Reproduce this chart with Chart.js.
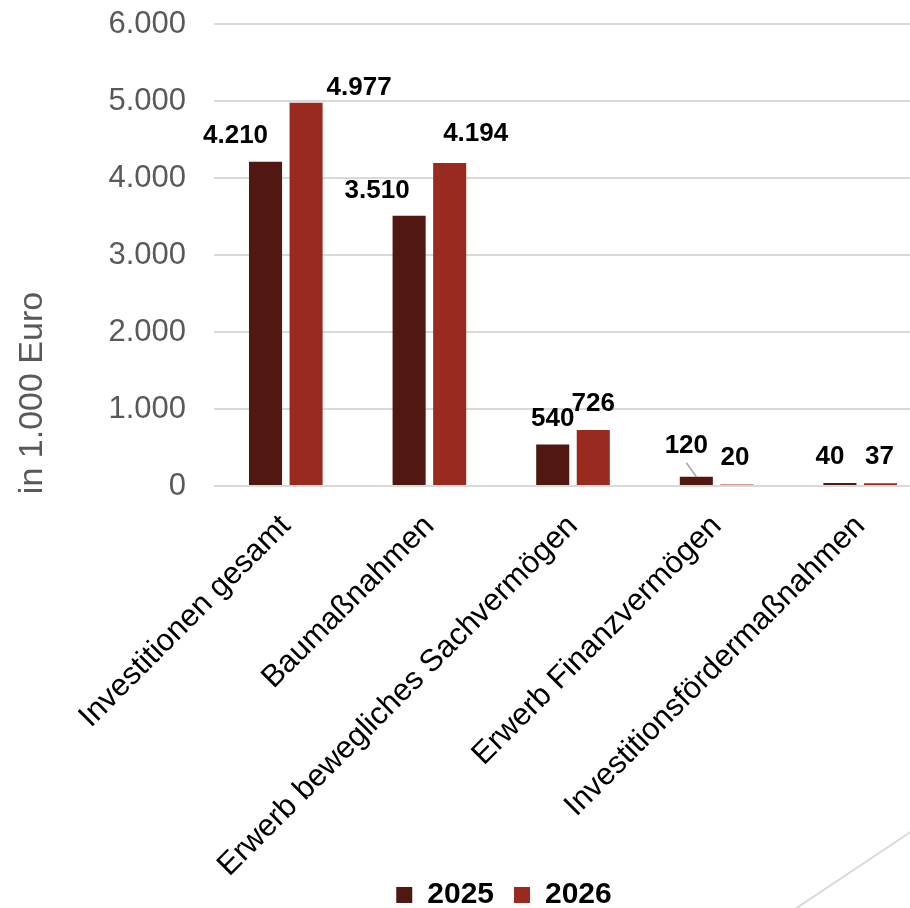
<!DOCTYPE html>
<html lang="de">
<head>
<meta charset="utf-8">
<title>Investitionen 2025 / 2026</title>
<script src="https://cdn.jsdelivr.net/npm/chart.js@4.4.1/dist/chart.umd.min.js"></script>
<style>
  html, body { margin: 0; padding: 0; background: #fff; overflow: hidden; }
  #wrap { position: relative; width: 932px; height: 908px; }
  #deco { position: absolute; left: 0; top: 0; pointer-events: none; }
</style>
</head>
<body>
<div id="wrap">
  <canvas id="invChart"></canvas>
  <svg id="deco" width="910" height="908"><line x1="795" y1="909" x2="912" y2="831" stroke="#d9d9d9" stroke-width="2"/></svg>
</div>
<script>
/* =========================
   DATA
========================= */
const categories = [
  "Investitionen gesamt",
  "Baumaßnahmen",
  "Erwerb bewegliches Sachvermögen",
  "Erwerb Finanzvermögen",
  "Investitionsfördermaßnahmen"
];
const seriesNames = ["2025", "2026"];
const values2025 = [4210, 3510, 540, 120, 40];
const values2026 = [4977, 4194, 726, 20, 37];
const yMin = 0;
const yMax = 6000;
const yStep = 1000;
const yTitle = "in 1.000 Euro";

/* =========================
   LOOK
========================= */
const FONT = "'Liberation Sans', Arial, sans-serif";
const COLORS = ["#501811", "#982a1f"];
const GRID = "#d9d9d9";
const AXIS_TEXT = "#595959";
const PLOT_BOTTOM = 486; // y of the zero line in the original

// label offsets (px) from the top centre of each bar, as placed in the original
const labelShift = [
  [[-30, -26], [-32, -25], [0, -26], [-10, -31], [-10, -26]],
  [[53, -15], [26, -29], [0, -26], [-2, -27], [-1, -26]]
];
const leaderLines = [[3], []];

function fmt(v) {
  return String(v).replace(/\B(?=(\d{3})+(?!\d))/g, ".");
}

/* =========================
   PLUGINS
========================= */
const barLabels = {
  id: "barLabels",
  afterDatasetsDraw(chart) {
    const ctx = chart.ctx;
    ctx.save();
    ctx.font = "bold 26px " + FONT;
    ctx.fillStyle = "#000";
    ctx.textAlign = "center";
    ctx.textBaseline = "middle";
    chart.data.datasets.forEach((ds, di) => {
      const meta = chart.getDatasetMeta(di);
      meta.data.forEach((bar, i) => {
        const [dx, dy] = labelShift[di][i];
        const lx = bar.x + dx, ly = bar.y + dy;
        ctx.fillText(fmt(ds.data[i]), lx, ly);
        if (leaderLines[di].includes(i)) {
          ctx.strokeStyle = "#a6a6a6";
          ctx.lineWidth = 1.5;
          ctx.beginPath();
          ctx.moveTo(lx, ly + 17);
          ctx.lineTo(bar.x, bar.y);
          ctx.stroke();
        }
      });
    });
    ctx.restore();
  }
};

const sideTitle = {
  id: "sideTitle",
  afterDraw(chart) {
    const ctx = chart.ctx;
    ctx.save();
    ctx.translate(33, 393);
    ctx.rotate(-Math.PI / 2);
    ctx.font = "34px " + FONT;
    ctx.fillStyle = AXIS_TEXT;
    ctx.textAlign = "center";
    ctx.textBaseline = "middle";
    ctx.fillText(yTitle, 0, 0);
    ctx.restore();
  }
};

// legend + category labels: place them like the original, let labels run into the legend band
const fixLayout = {
  id: "fixLayout",
  afterLayout(chart) {
    const lg = chart.legend;
    lg.left += 38; lg.right += 38;
    lg.top += 12; lg.bottom += 12;
    chart.scales.x.bottom = chart.height;
  }
};

/* =========================
   CHART
========================= */
new Chart(document.getElementById("invChart"), {
  type: "bar",
  data: {
    labels: categories,
    datasets: [
      { label: seriesNames[0], data: values2025, backgroundColor: COLORS[0] },
      { label: seriesNames[1], data: values2026, backgroundColor: COLORS[1] }
    ]
  },
  options: {
    responsive: true,
    maintainAspectRatio: false,
    animation: false,
    datasets: {
      bar: { categoryPercentage: 0.565, barPercentage: 0.815 }
    },
    layout: { padding: { top: 24, right: 0, bottom: 0, left: 0 } },
    plugins: {
      tooltip: { enabled: false },
      legend: {
        position: "bottom",
        labels: {
          boxWidth: 16,
          boxHeight: 16,
          padding: 20,
          color: "#000",
          font: { family: FONT, size: 30, weight: "bold" }
        }
      }
    },
    scales: {
      x: {
        afterFit(scale) {
          const lg = scale.chart.legend;
          scale.height = scale.chart.height - PLOT_BOTTOM - (lg ? lg.height : 0);
        },
        grid: { display: false },
        border: { display: false },
        ticks: {
          color: "#000",
          autoSkip: false,
          minRotation: 45,
          maxRotation: 45,
          padding: 14,
          font: { family: FONT, size: 31 }
        }
      },
      y: {
        min: yMin,
        max: yMax,
        afterFit(scale) { scale.width = 214; },
        grid: { color: GRID, lineWidth: 2, drawTicks: true, tickLength: 28, tickColor: "rgba(0,0,0,0)" },
        border: { display: false },
        ticks: {
          stepSize: yStep,
          padding: 0,
          color: AXIS_TEXT,
          font: { family: FONT, size: 31 },
          callback: v => fmt(v)
        }
      }
    }
  },
  plugins: [barLabels, sideTitle, fixLayout]
});
</script>
</body>
</html>
